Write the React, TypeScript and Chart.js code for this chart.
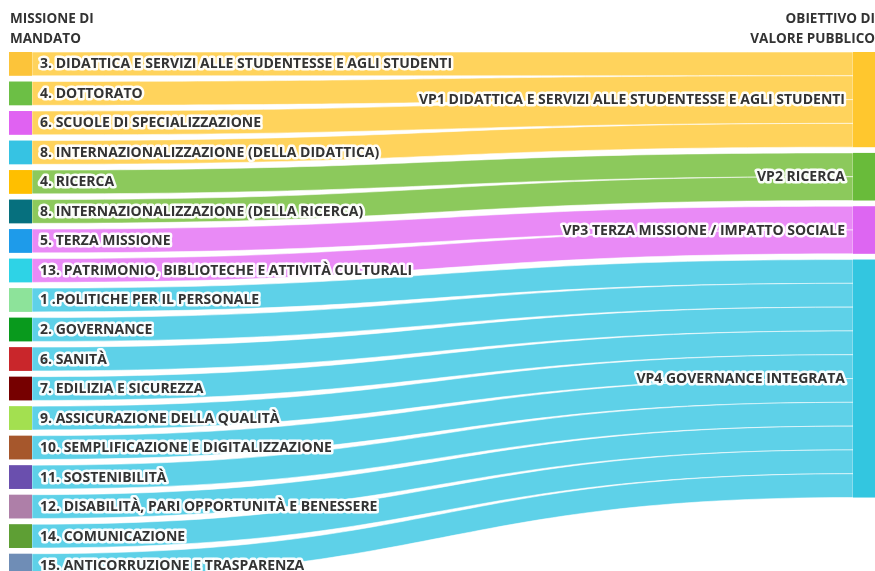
import React, { useEffect, useRef } from "react";
import { Chart, registerables } from "chart.js";

Chart.register(...registerables);

// ---------- DATA ----------
const leftTitle = ["MISSIONE DI", "MANDATO"];
const rightTitle = ["OBIETTIVO DI", "VALORE PUBBLICO"];

const sources = [
  "3. DIDATTICA E SERVIZI ALLE STUDENTESSE E AGLI STUDENTI",
  "4. DOTTORATO",
  "6. SCUOLE DI SPECIALIZZAZIONE",
  "8. INTERNAZIONALIZZAZIONE (DELLA DIDATTICA)",
  "4. RICERCA",
  "8. INTERNAZIONALIZZAZIONE (DELLA RICERCA)",
  "5. TERZA MISSIONE",
  "13. PATRIMONIO, BIBLIOTECHE E ATTIVITÀ CULTURALI",
  "1 .POLITICHE PER IL PERSONALE",
  "2. GOVERNANCE",
  "6. SANITÀ",
  "7. EDILIZIA E SICUREZZA",
  "9. ASSICURAZIONE DELLA QUALITÀ",
  "10. SEMPLIFICAZIONE E DIGITALIZZAZIONE",
  "11. SOSTENIBILITÀ",
  "12. DISABILITÀ, PARI OPPORTUNITÀ E BENESSERE",
  "14. COMUNICAZIONE",
  "15. ANTICORRUZIONE E TRASPARENZA",
];

const sourceColors = [
  "#FCC43A", "#6CBF45", "#E062F2", "#36C3E3", "#FFBF00", "#06707E",
  "#1E9BEA", "#2ED3E6", "#8DE39A", "#099A1D", "#C9262B", "#760000",
  "#A3E050", "#A6572C", "#6A4FAE", "#AE7FA8", "#5E9F34", "#6F8DB6",
];

const targets = [
  "VP1 DIDATTICA E SERVIZI ALLE STUDENTESSE E AGLI STUDENTI",
  "VP2 RICERCA",
  "VP3 TERZA MISSIONE / IMPATTO SOCIALE",
  "VP4 GOVERNANCE INTEGRATA",
];
const targetColors = ["#FFC72E", "#69BB3A", "#DD66F2", "#33C6E0"];
const linkColors = ["#FFD35C", "#8CC95C", "#E98AF6", "#5ED1E8"];

const flowTarget = [0, 0, 0, 0, 1, 1, 2, 2, 3, 3, 3, 3, 3, 3, 3, 3, 3, 3];
const flowValue = [1, 1, 1, 1, 1, 1, 1, 1, 1, 1, 1, 1, 1, 1, 1, 1, 1, 1];

// ---------- STYLE ----------
const NODE_PAD = 0.24; // gap between nodes, in value units
const NODE_W = 23;
const FONT = "'Open Sans', 'DejaVu Sans', sans-serif";
const TEXT_COLOR = "#333333";

const leftTotal =
  flowValue.reduce((a, b) => a + b, 0) + (sources.length - 1) * NODE_PAD;

function haloText(ctx: CanvasRenderingContext2D, text: string, x: number, y: number) {
  ctx.lineJoin = "round";
  ctx.lineWidth = 5;
  ctx.strokeStyle = "rgba(255,255,255,0.95)";
  ctx.strokeText(text, x, y);
  ctx.fillStyle = TEXT_COLOR;
  ctx.fillText(text, x, y);
}

const sankeyPlugin = {
  id: "sankeyDraw",
  afterDatasetsDraw(chart: any) {
    const ctx: CanvasRenderingContext2D = chart.ctx;
    const xs = chart.scales.x;
    const ys = chart.scales.y;
    const xL = xs.getPixelForValue(0);
    const xR = xs.getPixelForValue(1);

    // left nodes
    const lY0: number[] = [];
    const lY1: number[] = [];
    let acc = 0;
    sources.forEach((_, i) => {
      lY0.push(acc);
      acc += flowValue[i];
      lY1.push(acc);
      acc += NODE_PAD;
    });

    // right nodes
    const tTot = targets.map((_, t) =>
      flowValue.reduce((s, v, i) => (flowTarget[i] === t ? s + v : s), 0)
    );
    const rY0: number[] = [];
    const rY1: number[] = [];
    let racc = 0;
    targets.forEach((_, t) => {
      rY0.push(racc);
      racc += tTot[t];
      rY1.push(racc);
      racc += NODE_PAD;
    });

    ctx.save();
    // links
    const off = rY0.slice();
    const x0 = xL + NODE_W;
    const x1 = xR - NODE_W;
    const xm = (x0 + x1) / 2;
    sources.forEach((_, i) => {
      const t = flowTarget[i];
      const v = flowValue[i];
      const a0 = ys.getPixelForValue(lY0[i]);
      const a1 = ys.getPixelForValue(lY1[i]);
      const b0 = ys.getPixelForValue(off[t]);
      const b1 = ys.getPixelForValue(off[t] + v);
      off[t] += v;
      ctx.beginPath();
      ctx.moveTo(x0, a0);
      ctx.bezierCurveTo(xm, a0, xm, b0, x1, b0);
      ctx.lineTo(x1, b1);
      ctx.bezierCurveTo(xm, b1, xm, a1, x0, a1);
      ctx.closePath();
      ctx.fillStyle = linkColors[t];
      ctx.fill();
      ctx.lineWidth = 1;
      ctx.strokeStyle = "rgba(255,255,255,0.55)";
      ctx.stroke();
    });

    // nodes
    sources.forEach((_, i) => {
      const a0 = ys.getPixelForValue(lY0[i]);
      const a1 = ys.getPixelForValue(lY1[i]);
      ctx.fillStyle = sourceColors[i];
      ctx.fillRect(xL, a0, NODE_W, a1 - a0);
    });
    targets.forEach((_, t) => {
      const a0 = ys.getPixelForValue(rY0[t]);
      const a1 = ys.getPixelForValue(rY1[t]);
      ctx.fillStyle = targetColors[t];
      ctx.fillRect(xR - NODE_W, a0, NODE_W, a1 - a0);
    });

    // labels
    ctx.font = `bold 14px ${FONT}`;
    ctx.textBaseline = "middle";
    ctx.textAlign = "left";
    sources.forEach((s, i) => {
      const yc = ys.getPixelForValue((lY0[i] + lY1[i]) / 2);
      haloText(ctx, s, x0 + 8, yc + 0.5);
    });
    ctx.textAlign = "right";
    targets.forEach((s, t) => {
      const yc = ys.getPixelForValue((rY0[t] + rY1[t]) / 2);
      haloText(ctx, s, x1 - 8, yc + 0.5);
    });

    // column titles
    ctx.font = `bold 13.5px ${FONT}`;
    ctx.fillStyle = TEXT_COLOR;
    ctx.textAlign = "left";
    ctx.textBaseline = "middle";
    leftTitle.forEach((s, k) => ctx.fillText(s, xL + 1, 19.5 + k * 19.5));
    ctx.textAlign = "right";
    rightTitle.forEach((s, k) => ctx.fillText(s, xR - 1, 19.5 + k * 19.5));
    ctx.restore();
  },
};

export default function App() {
  const ref = useRef<HTMLCanvasElement | null>(null);
  useEffect(() => {
    if (!ref.current) return;
    const chart = new Chart(ref.current, {
      type: "scatter",
      data: { datasets: [{ data: [] }] },
      options: {
        animation: false,
        responsive: false,
        devicePixelRatio: 1,
        layout: { padding: { left: 9, right: 4, top: 52, bottom: 2.5 } },
        plugins: { legend: { display: false }, tooltip: { enabled: false } },
        scales: {
          x: { type: "linear", min: 0, max: 1, display: false },
          y: { type: "linear", min: 0, max: leftTotal, reverse: true, display: false },
        },
      },
      plugins: [sankeyPlugin],
    } as any);
    return () => chart.destroy();
  }, []);
  return (
    <div
      style={{
        position: "fixed",
        left: 0,
        top: 0,
        width: 875,
        height: 571,
        overflow: "hidden",
        background: "#ffffff",
      }}
    >
      <canvas ref={ref} width={880} height={580} style={{ display: "block" }} />
    </div>
  );
}
